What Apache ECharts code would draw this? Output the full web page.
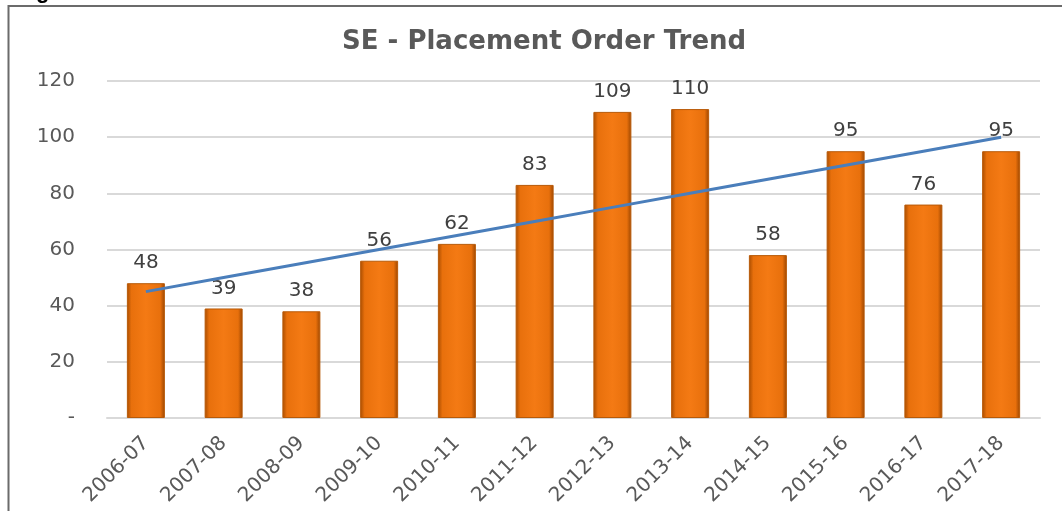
<!DOCTYPE html>
<html>
<head>
    <meta charset="utf-8">
    <title>SE - Placement Order Trend</title>
    <style>
        html, body { margin: 0; padding: 0; background: #fff; }
        #main { width: 1062px; height: 511px; }
    </style>
</head>
<body>
<div id="main"></div>
<script src="https://cdn.jsdelivr.net/npm/echarts@6/dist/echarts.min.js"></script>
<script>
    // 年度
    var years = ['2006-07', '2007-08', '2008-09', '2009-10', '2010-11', '2011-12',
        '2012-13', '2013-14', '2014-15', '2015-16', '2016-17', '2017-18'];
    // 订单数
    var orders = [48, 39, 38, 56, 62, 83, 109, 110, 58, 95, 76, 95];
    // 趋势线
    var trend = [45, 50, 55, 60, 65, 70, 75, 80, 85, 90, 95, 100];
    // y轴刻度
    var yTicks = {0: '-', 20: '20', 40: '40', 60: '60', 80: '80', 100: '100', 120: '120'};

    var myChart = echarts.init(document.getElementById('main'));

    var option = {
        animation: false,
        title: {
            text: 'SE - Placement Order Trend',
            left: 337,
            top: 24,
            textStyle: {
                fontFamily: 'DejaVu Sans',
                fontWeight: 'bold',
                fontSize: 26,
                color: '#595959'
            }
        },
        // 外框 + 顶部被截掉的字
        graphic: [
            {
                type: 'polyline',
                shape: {points: [[8.5, 520], [8.5, 6], [1070, 6]]},
                style: {stroke: '#6b6b6b', lineWidth: 2, fill: null}
            },
            {
                type: 'text',
                left: 36,
                top: -19,
                style: {
                    text: 'g',
                    font: 'bold 22px "Liberation Sans"',
                    fill: '#000'
                }
            }
        ],
        grid: {
            left: 107,
            right: 22,
            top: 81,
            bottom: 93
        },
        xAxis: {
            type: 'category',
            data: years,
            axisLine: {lineStyle: {color: '#d9d9d9', width: 2}},
            axisTick: {show: false},
            axisLabel: {
                rotate: 45,
                interval: 0,
                margin: 22,
                fontFamily: 'DejaVu Sans',
                fontSize: 20,
                color: '#595959'
            }
        },
        yAxis: {
            type: 'value',
            min: 0,
            max: 120,
            interval: 20,
            axisLine: {show: false},
            axisTick: {show: false},
            splitLine: {lineStyle: {color: '#d9d9d9', width: 2}},
            axisLabel: {
                margin: 32,
                fontFamily: 'DejaVu Sans',
                fontSize: 20,
                color: '#595959',
                formatter: function (v) { return yTicks[v]; }
            }
        },
        series: [
            {
                type: 'bar',
                data: orders,
                barWidth: 38,
                itemStyle: {
                    color: new echarts.graphic.LinearGradient(0, 0, 1, 0, [
                        {offset: 0, color: '#a84c00'},
                        {offset: 0.12, color: '#e8700c'},
                        {offset: 0.5, color: '#f47a14'},
                        {offset: 0.88, color: '#e8700c'},
                        {offset: 1, color: '#9a4500'}
                    ]),
                    borderColor: '#b85a08',
                    borderWidth: 1
                },
                label: {
                    show: true,
                    position: 'top',
                    distance: 10,
                    fontFamily: 'DejaVu Sans',
                    fontSize: 20,
                    color: '#404040'
                },
                z: 2
            },
            {
                type: 'line',
                data: trend,
                symbol: 'none',
                lineStyle: {color: '#4a7ebb', width: 3},
                z: 3
            }
        ]
    };
    myChart.setOption(option);
</script>
</body>
</html>
